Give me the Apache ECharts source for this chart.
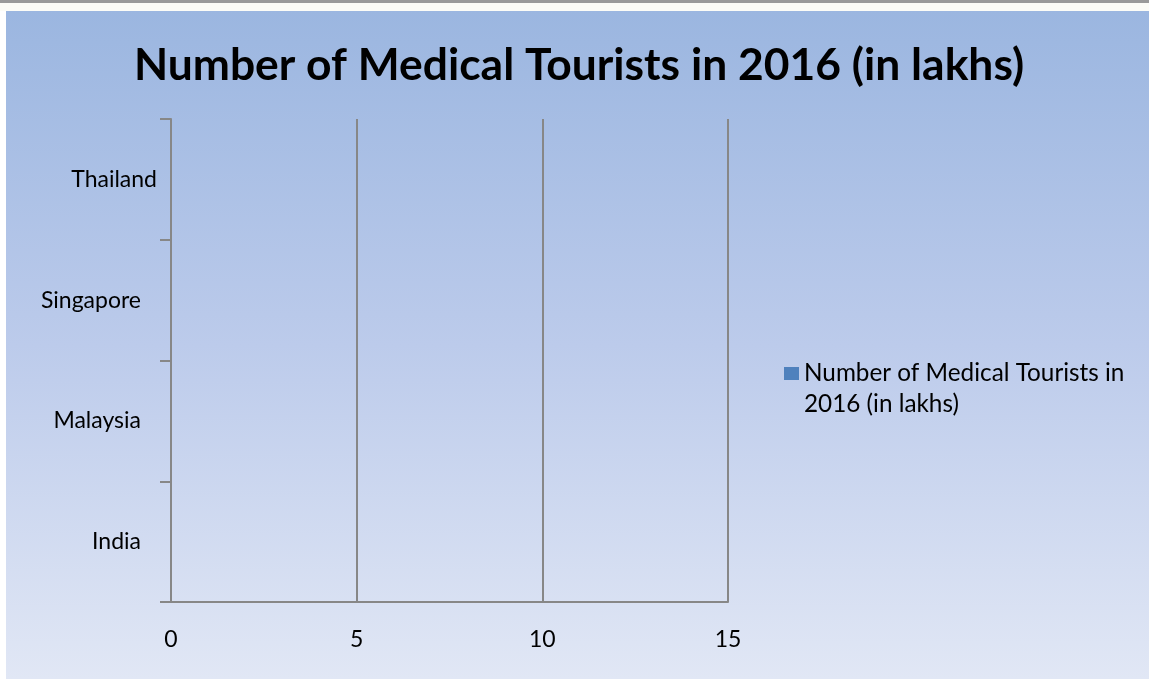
<!DOCTYPE html>
<html>
<head>
<meta charset="utf-8">
<script src="https://cdn.jsdelivr.net/npm/echarts@6/dist/echarts.min.js"></script>
<style>html,body{margin:0;padding:0;background:#fff;}#c{width:1149px;height:679px;}</style>
</head>
<body>
<div id="c"></div>
<script>
const titleText = 'Number of Medical Tourists in 2016 (in lakhs)';
const seriesName = 'Number of Medical Tourists in 2016 (in lakhs)';
const legendLines = ['Number of Medical Tourists in', '2016 (in lakhs)'];
const categories = ['India', 'Malaysia', 'Singapore', 'Thailand'];
const values = [0, 0, 0, 0];
const xTicks = [0, 5, 10, 15];

const chart = echarts.init(document.getElementById('c'));
const gray = '#878787';
const FONT = 'Lato';
chart.setOption({
  animation: false,
  graphic: [
    { type: 'rect', left: 0, top: 0, shape: { width: 1149, height: 3 }, style: { fill: '#9a9a9a' }, z: -10 },
    { type: 'rect', left: 0, top: 3, shape: { width: 1149, height: 8 }, style: { fill: '#fcfcf7' }, z: -10 },
    { type: 'rect', left: 0, top: 11, shape: { width: 6, height: 668 }, style: { fill: '#ffffff' }, z: -10 },
    { type: 'rect', left: 6, top: 11, shape: { width: 1143, height: 668 },
      style: { fill: new echarts.graphic.LinearGradient(0, 0, 0, 1, [
        { offset: 0, color: '#9bb6e0' },
        { offset: 0.5, color: '#bccbeb' },
        { offset: 1, color: '#e1e7f5' }
      ]) }, z: -10 }
  ],
  title: {
    text: titleText,
    left: 574, textAlign: 'center', top: 39,
    textStyle: { fontFamily: FONT, fontWeight: 'bold', fontSize: 44.4, color: '#000' }
  },
  legend: {
    left: 779, top: 322,
    icon: 'rect', itemWidth: 15, itemHeight: 13,
    data: [seriesName],
    formatter: function () { return ' \n' + legendLines.join('\n'); },
    textStyle: { fontFamily: FONT, fontSize: 24.3, color: '#000', lineHeight: 31 }
  },
  grid: { left: 171, right: 421, top: 119, bottom: 77, containLabel: false },
  xAxis: {
    type: 'value', min: xTicks[0], max: xTicks[xTicks.length - 1], interval: 5,
    axisLine: { show: true, lineStyle: { color: gray, width: 2 } },
    axisTick: { show: false },
    splitLine: { show: true, lineStyle: { color: gray, width: 2 } },
    axisLabel: { margin: 26, fontFamily: FONT, fontSize: 23, color: '#000' }
  },
  yAxis: {
    type: 'category', data: categories,
    axisLine: { show: true, lineStyle: { color: gray, width: 2 } },
    axisTick: { show: true, inside: false, length: 11, alignWithLabel: false, lineStyle: { color: gray, width: 2 } },
    splitLine: { show: false },
    axisLabel: {
      margin: 14, color: '#000',
      formatter: function (v) { return v === 'Thailand' ? '{a|' + v + '}' : '{b|' + v + '}'; },
      rich: {
        a: { fontFamily: FONT, fontSize: 23, color: '#000' },
        b: { fontFamily: FONT, fontSize: 23, color: '#000', padding: [0, 16, 0, 0] }
      }
    }
  },
  series: [{
    name: seriesName, type: 'bar', data: values,
    itemStyle: { color: '#4f81bd' }, barWidth: '60%'
  }]
});
</script>
</body>
</html>
